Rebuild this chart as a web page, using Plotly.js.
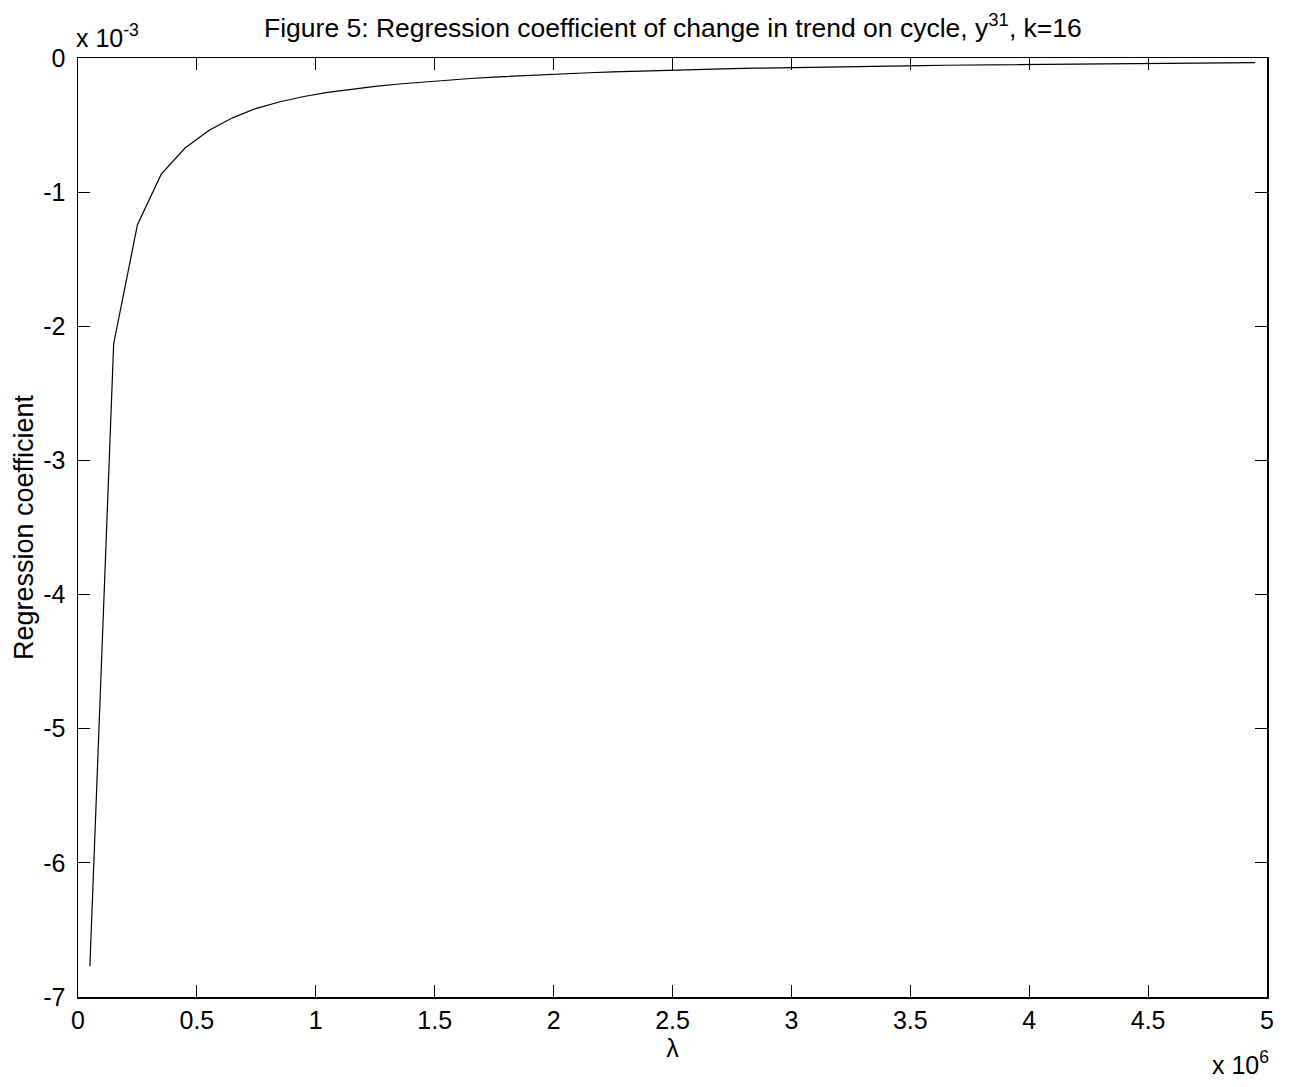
<!DOCTYPE html>
<html>
<head>
<meta charset="utf-8">
<script src="https://cdn.plot.ly/plotly-3.0.1.min.js"></script>
<style>html,body{margin:0;padding:0;background:#fff;}#chart{width:1291px;height:1087px;}</style>
</head>
<body>
<div id="chart"></div>
<script>
// lambda (x 10^6)
const lambda = [0.05,0.15,0.25,0.35,0.45,0.55,0.65,0.75,0.85,0.95,
  1.05,1.15,1.25,1.35,1.45,1.55,1.65,1.75,1.85,1.95,
  2.05,2.15,2.25,2.35,2.45,2.55,2.65,2.75,2.85,2.95,
  3.05,3.15,3.25,3.35,3.45,3.55,3.65,3.75,3.85,3.95,
  4.05,4.15,4.25,4.35,4.45,4.55,4.65,4.75,4.85,4.95];
// regression coefficient (x 10^-3)
const coef = [-6.77,-2.13,-1.243,-0.866,-0.671,-0.541,-0.446,-0.375,-0.326,-0.287,
  -0.256,-0.231,-0.211,-0.194,-0.179,-0.166,-0.153,-0.142,-0.133,-0.124,
  -0.1166,-0.1098,-0.1031,-0.0974,-0.0922,-0.0875,-0.0834,-0.0793,-0.0758,-0.0722,
  -0.0692,-0.0663,-0.0634,-0.0609,-0.0586,-0.0563,-0.0542,-0.0523,-0.0504,-0.0486,
  -0.0469,-0.0453,-0.0438,-0.0423,-0.0409,-0.0396,-0.0383,-0.0371,-0.0361,-0.0349];
const xTickVals = [0,0.5,1,1.5,2,2.5,3,3.5,4,4.5,5];
const xTickText = ["0","0.5","1","1.5","2","2.5","3","3.5","4","4.5","5"];
const yTickVals = [0,-1,-2,-3,-4,-5,-6,-7];
const yTickText = ["0","-1","-2","-3","-4","-5","-6","-7"];

const fam = "Liberation Sans, Arial, sans-serif";
const font = {family: fam, size: 25, color: "#000"};
const titleFont = {family: fam, size: 26.5, color: "#000"};
const ylabFont = {family: fam, size: 27, color: "#000"};

const trace = {x: lambda, y: coef, type: "scatter", mode: "lines",
  line: {color: "#000", width: 1.2}, hoverinfo: "skip", showlegend: false};

const axisCommon = {showline: true, linecolor: "#000", linewidth: 1.5, mirror: "ticks",
  ticks: "inside", ticklen: 12, tickwidth: 1, tickcolor: "#000", showgrid: false,
  zeroline: false, tickfont: font, fixedrange: true};

const layout = {
  width: 1291, height: 1087,
  margin: {l: 78, r: 24, t: 58, b: 90},
  paper_bgcolor: "#fff", plot_bgcolor: "#fff",
  font: font,
  xaxis: Object.assign({}, axisCommon, {range: [0, 5], tickmode: "array", tickvals: xTickVals, ticktext: xTickText,
    ticklabelstandoff: 0,
    title: {text: "λ", font: font, standoff: 4}}),
  yaxis: Object.assign({}, axisCommon, {range: [-7, 0], tickmode: "array", tickvals: yTickVals, ticktext: yTickText,
    ticklabelstandoff: 6,
    title: {text: "Regression coefficient", font: ylabFont, standoff: 2}}),
  annotations: [
    {text: "Figure 5: Regression coefficient of change in trend on cycle, y<sup>31</sup>, k=16",
     xref: "paper", yref: "paper", x: 0.5, y: 1.0, xanchor: "center", yanchor: "bottom",
     yshift: 13, showarrow: false, font: titleFont},
    {text: "x 10<sup>-3</sup>", xref: "paper", yref: "paper", x: 0.0, y: 1.0, xanchor: "left", yanchor: "bottom",
     yshift: 4, xshift: -4, showarrow: false, font: font},
    {text: "x 10<sup>6</sup>", xref: "paper", yref: "paper", x: 1.0, y: 0, xanchor: "right", yanchor: "bottom",
     yshift: -84, xshift: 4, showarrow: false, font: font}
  ]
};
Plotly.newPlot("chart", [trace], layout, {staticPlot: true, displayModeBar: false});
</script>
</body>
</html>
